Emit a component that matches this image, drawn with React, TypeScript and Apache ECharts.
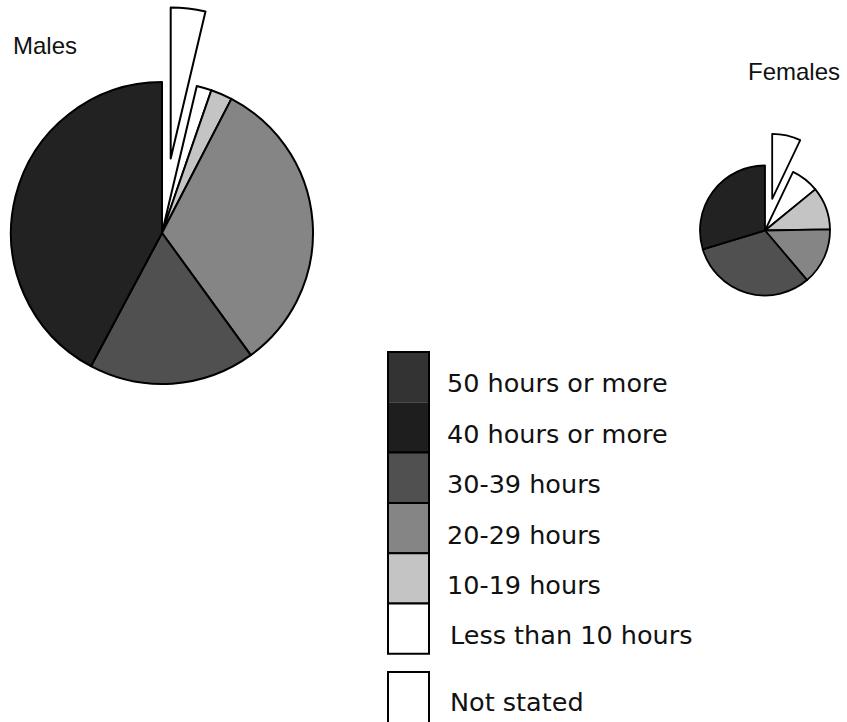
import React, { useEffect, useRef } from 'react';
import * as echarts from 'echarts';

// Pie categories, clockwise from 12 o'clock
const categories = [
  'Not stated',
  'Less than 10 hours',
  '10-19 hours',
  '20-29 hours',
  '30-39 hours',
  '40 hours or more',
];
// Percent shares
const malesValues = [3.7, 1.6, 2.3, 32.4, 17.8, 42.2];
const femalesValues = [7.1, 7.0, 10.6, 14.1, 31.5, 29.7];

const legendLabels = [
  '50 hours or more',
  '40 hours or more',
  '30-39 hours',
  '20-29 hours',
  '10-19 hours',
  'Less than 10 hours',
  'Not stated',
];

const fills = ['#ffffff', '#ffffff', '#c4c4c4', '#858585', '#505050', '#222222'];

const TITLE_FONT = '24px "Liberation Sans", Arial, sans-serif';
const LEGEND_FONT = '25.5px "DejaVu Sans", sans-serif';

function pieSeries(name: string, values: number[], center: number[], radius: number, offset: number, bw: number) {
  return {
    type: 'pie',
    name,
    center,
    radius,
    startAngle: 90,
    clockwise: true,
    selectedMode: 'single',
    selectedOffset: offset,
    silent: true,
    emphasis: { disabled: true },
    label: { show: false },
    labelLine: { show: false },
    itemStyle: { borderColor: '#000', borderWidth: bw },
    select: { itemStyle: { color: '#ffffff', borderColor: '#000', borderWidth: bw } },
    data: categories.map((c, i) => ({
      name: c,
      value: values[i],
      selected: i === 0,
      itemStyle: { color: fills[i], borderColor: '#000', borderWidth: bw },
    })),
  };
}

function buildLegend() {
  const x0 = 388;
  const w = 41;
  const top = 352;
  const rowH = 50.3;
  const els: any[] = [];
  // dark box spanning "50 hours or more" and "40 hours or more"
  els.push({ type: 'rect', shape: { x: x0, y: top, width: w, height: rowH }, style: { fill: '#333333' } });
  els.push({ type: 'rect', shape: { x: x0, y: top + rowH, width: w, height: rowH }, style: { fill: '#1e1e1e' } });
  els.push({ type: 'rect', shape: { x: x0, y: top, width: w, height: rowH * 2 }, style: { fill: 'none', stroke: '#000', lineWidth: 2 } });
  // 30-39, 20-29, 10-19, Less than 10 (categories index 4..1)
  for (let k = 0; k < 4; k++) {
    const ci = 4 - k;
    els.push({
      type: 'rect',
      shape: { x: x0, y: top + rowH * (2 + k), width: w, height: rowH },
      style: { fill: fills[ci], stroke: '#000', lineWidth: 2 },
    });
  }
  // Not stated box (runs off the bottom)
  els.push({ type: 'rect', shape: { x: x0, y: 672, width: w, height: 80 }, style: { fill: '#ffffff', stroke: '#000', lineWidth: 2 } });

  legendLabels.forEach((t, i) => {
    const y = i < 6 ? 383.3 + i * 50.4 : 701.5;
    els.push({
      type: 'text',
      x: i < 5 ? 447 : 450,
      y,
      style: { text: t, font: LEGEND_FONT, fill: '#111', textAlign: 'left', textVerticalAlign: 'middle' },
    });
  });
  return els;
}

export default function App() {
  const ref = useRef<HTMLDivElement>(null);
  useEffect(() => {
    if (!ref.current) return;
    const chart = echarts.init(ref.current, undefined, { renderer: 'svg' });
    chart.setOption({
      animation: false,
      backgroundColor: '#ffffff',
      series: [
        pieSeries('Males', malesValues, [162, 233], 151, 75, 2),
        pieSeries('Females', femalesValues, [765, 230.5], 65, 32.5, 1.8),
      ],
      graphic: [
        {
          type: 'text',
          x: 13,
          y: 45,
          style: { text: 'Males', font: TITLE_FONT, fill: '#111', textAlign: 'left', textVerticalAlign: 'middle' },
        },
        {
          type: 'text',
          x: 748,
          y: 71.7,
          style: { text: 'Females', font: TITLE_FONT, fill: '#111', textAlign: 'left', textVerticalAlign: 'middle' },
        },
        ...buildLegend(),
      ],
    });
    return () => chart.dispose();
  }, []);
  return (
    <div
      ref={ref}
      style={{ position: 'absolute', left: 0, top: 0, width: 847, height: 722, background: '#fff' }}
    />
  );
}
